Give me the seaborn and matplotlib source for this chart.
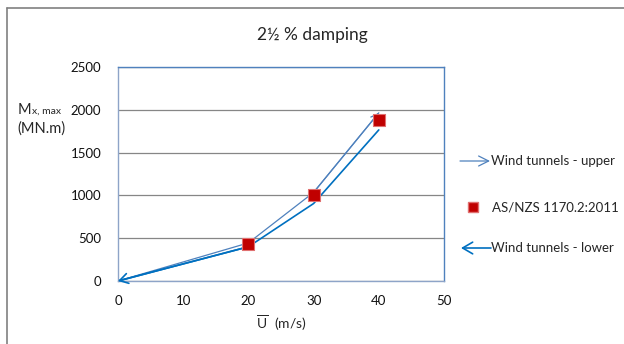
import matplotlib
matplotlib.use("Agg")
import matplotlib.pyplot as plt
import seaborn as sb
import pandas as pd
from matplotlib.lines import Line2D

# values
speed = [0, 20, 30, 40]
upper = [0, 445, 1035, 1965]
lower = [0, 400, 905, 1765]
code_speed = [20, 30, 40]
code_moment = [430, 1005, 1880]
x_ticks = [0, 10, 20, 30, 40, 50]
y_ticks = [0, 500, 1000, 1500, 2000, 2500]

UPPER_COL = "#4F81BD"
LOWER_COL = "#0070C0"
GRID_COL = "#868686"
FRAME_COL = "#4F81BD"

sb.set_style("white")
plt.rcParams["font.family"] = ["Lato", "DejaVu Sans"]
plt.rcParams["mathtext.fontset"] = "custom"
plt.rcParams["mathtext.rm"] = "Lato"

W, H = 624, 344
fig = plt.figure(figsize=(W / 100, H / 100), dpi=100)


def px(x, y):
    return x / W, 1 - y / H


l, t = px(118, 67)
r, b = px(444, 281)
ax = fig.add_axes([l, b, r - l, t - b])

df_up = pd.DataFrame({"speed": speed, "moment": upper})
df_lo = pd.DataFrame({"speed": speed, "moment": lower})
df_code = pd.DataFrame({"speed": code_speed, "moment": code_moment})

sb.lineplot(data=df_up, x="speed", y="moment", ax=ax, color=UPPER_COL, lw=0.9)
sb.lineplot(data=df_lo, x="speed", y="moment", ax=ax, color=LOWER_COL, lw=1.2)
sb.scatterplot(data=df_code, x="speed", y="moment", ax=ax, marker="s", s=70,
               color="#C00000", edgecolor="#E07070", linewidth=0.8, zorder=5)

# arrow heads on the end of each wind tunnel line
ax.annotate("", xy=(speed[-1], upper[-1]), xytext=(speed[-2], upper[-2]),
            arrowprops=dict(arrowstyle="->,head_length=0.5,head_width=0.25",
                            color=UPPER_COL, lw=0.9,
                            mutation_scale=10, shrinkA=0, shrinkB=0))
ax.annotate("", xy=(speed[0], lower[0]), xytext=(speed[1], lower[1]),
            arrowprops=dict(arrowstyle="->,head_length=0.5,head_width=0.3",
                            color=LOWER_COL, lw=1.2,
                            mutation_scale=12, shrinkA=0, shrinkB=0))

ax.set_xlim(0, 50)
ax.set_ylim(0, 2500)
ax.set_xticks(x_ticks)
ax.set_yticks(y_ticks)
ax.set_xlabel("")
ax.set_ylabel("")
ax.tick_params(axis="both", labelsize=9.5, length=4, width=0.8, color=GRID_COL,
               direction="out", pad=6, labelcolor="#111111")
ax.tick_params(axis="y", pad=8)
ax.yaxis.grid(True, color=GRID_COL, lw=0.9)
ax.xaxis.grid(False)
for side in ["left", "bottom"]:
    ax.spines[side].set_color("#8EA4C8")
    ax.spines[side].set_linewidth(1.0)
for side in ["top", "right"]:
    ax.spines[side].set_color(FRAME_COL)
    ax.spines[side].set_linewidth(1.0)

# titles and labels
fig.text(*px(312, 35), "2\u00bd % damping", ha="center", va="center", fontsize=12.5)
fig.text(*px(281, 323), r"$\overline{\mathrm{U}}\ $ (m/s)", ha="center", va="center",
         fontsize=10)
fig.text(*px(18, 114), "M", ha="left", va="baseline", fontsize=10.5)
fig.text(*px(32, 114), "x, max", ha="left", va="baseline", fontsize=7.5)
fig.text(*px(17, 133), "(MN.m)", ha="left", va="baseline", fontsize=10.5)

# manual legend
ax.annotate("", xy=px(490, 161), xytext=px(460, 161), xycoords="figure fraction",
            textcoords="figure fraction",
            arrowprops=dict(arrowstyle="->,head_length=0.6,head_width=0.3",
                            color=UPPER_COL, lw=0.9,
                            mutation_scale=12, shrinkA=0, shrinkB=0))
fig.text(*px(491, 161), "Wind tunnels - upper", ha="left", va="center", fontsize=9.5)
fig.add_artist(Line2D([px(473, 0)[0]], [px(0, 207)[1]], marker="s", markersize=7,
                      color="#C00000", markeredgecolor="#E07070", lw=0,
                      transform=fig.transFigure))
fig.text(*px(492, 207), "AS/NZS 1170.2:2011", ha="left", va="center", fontsize=9.5)
ax.annotate("", xy=px(461, 248), xytext=px(491, 248), xycoords="figure fraction",
            textcoords="figure fraction",
            arrowprops=dict(arrowstyle="->,head_length=0.6,head_width=0.35",
                            color=LOWER_COL, lw=1.2,
                            mutation_scale=12, shrinkA=0, shrinkB=0))
fig.text(*px(491, 248), "Wind tunnels - lower", ha="left", va="center", fontsize=9.5)

# chart area border (top and left edges visible)
fig.add_artist(Line2D([px(7, 0)[0], 1], [px(0, 8)[1]] * 2, color="#808080", lw=1.2,
                      transform=fig.transFigure))
fig.add_artist(Line2D([px(7, 0)[0]] * 2, [0, px(0, 8)[1]], color="#808080", lw=1.2,
                      transform=fig.transFigure))

fig.savefig("out.png", dpi=100)
